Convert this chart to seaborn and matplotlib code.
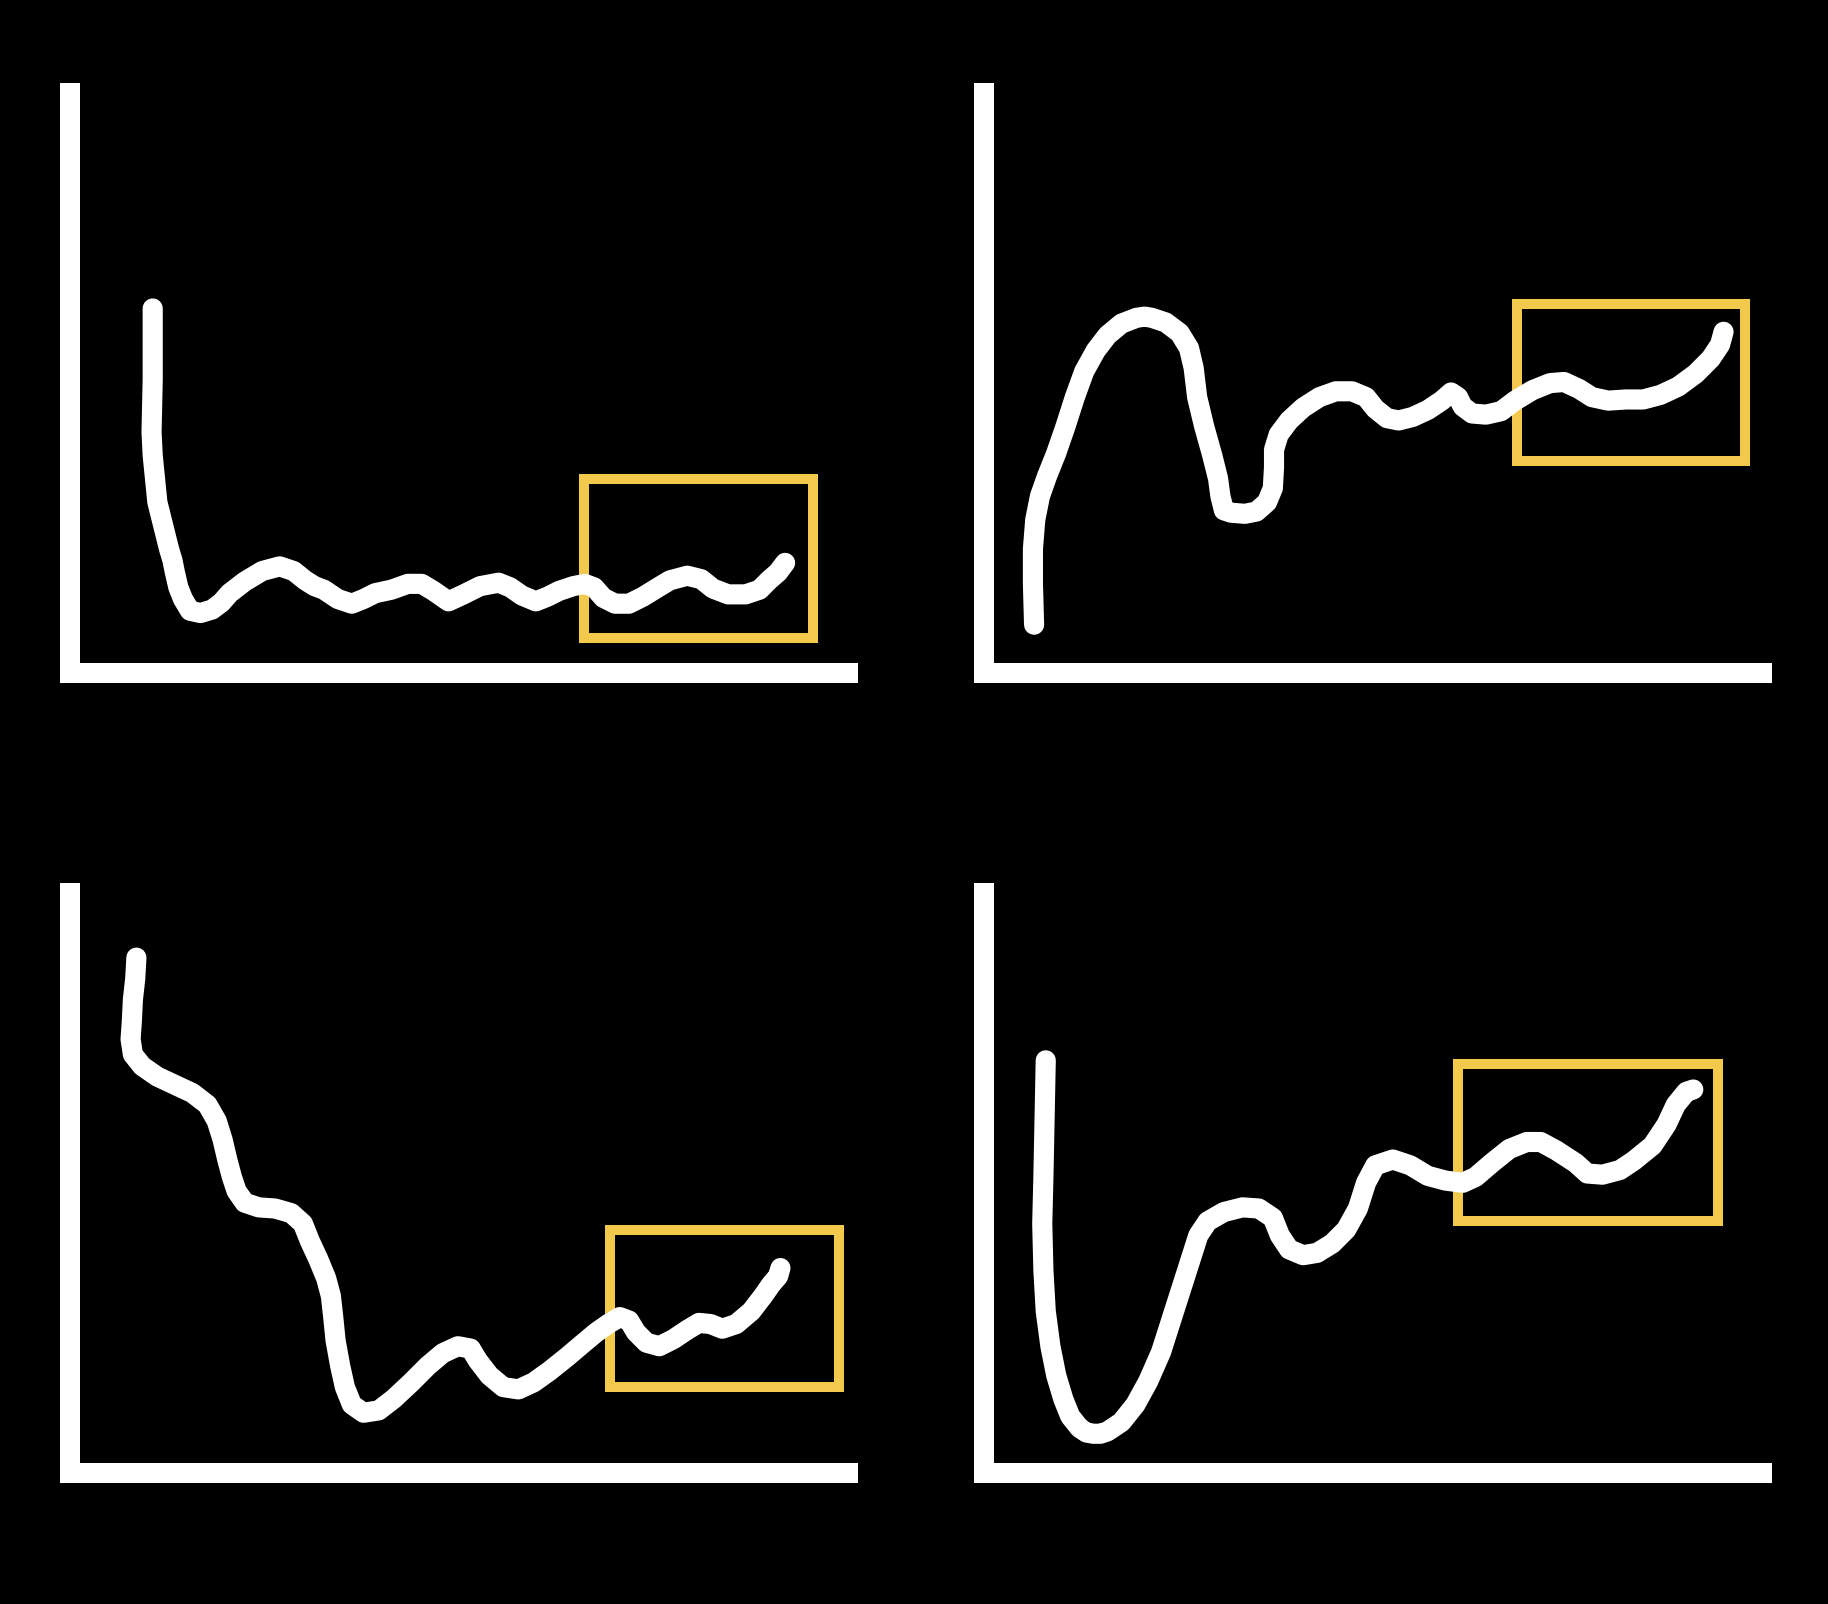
import matplotlib
matplotlib.use("Agg")
import matplotlib.pyplot as plt
from matplotlib.patches import Rectangle
import seaborn as sns
import pandas as pd

# values (x and y share one unit on every panel)
tl_x = [71, 71, 70, 71, 73, 75, 78, 82, 85, 88, 90, 93, 97, 103, 112, 122, 130, 137, 150, 165,
        180, 192, 202, 210, 218, 230, 242, 252, 262, 276, 290, 302, 312, 325, 338, 352, 368, 378,
        388, 400, 410, 420, 432, 442, 450, 458, 468, 480, 492, 505, 515, 530, 542, 552, 565, 580,
        592, 600, 608, 614]
tl_y = [312, 251, 206, 186, 166, 146, 134, 118, 106, 96, 86, 73, 63, 53, 51, 54, 60, 68, 78, 87,
        91, 87, 79, 74, 71, 63, 59, 63, 68, 71, 76, 76, 70, 61, 67, 74, 77, 73,
        66, 61, 65, 70, 74, 76, 73, 64, 59, 59, 65, 73, 79, 83, 80, 72, 67, 67,
        71, 79, 86, 94]

tr_x = [43, 42, 42, 44, 48, 54, 62, 70, 78, 86, 96, 106, 118, 131, 138, 144, 156, 168, 176, 180, 183,
        189, 196, 201, 203, 206, 212, 224, 234, 243, 248, 249, 249, 253, 262, 274, 288, 302, 316,
        328, 336, 346, 356, 368, 381, 393, 401, 407, 411, 419, 431, 444, 456, 471, 486, 498, 511,
        522, 536, 551, 566, 581, 596, 611, 624, 632, 635]
tr_y = [41, 76, 106, 131, 151, 168, 188, 211, 236, 258, 276, 289, 299, 304, 305, 304, 300, 291, 278, 261, 236,
        211, 186, 166, 151, 139, 137, 136, 138, 146, 158, 176, 191, 204, 216, 227, 236, 241, 241,
        236, 226, 218, 216, 219, 225, 233, 240, 236, 228, 222, 221, 224, 233, 242, 248, 249, 243,
        236, 233, 234, 234, 238, 245, 256, 269, 281, 292]

bl_x = [57, 56, 54, 53, 52, 54, 62, 75, 90, 105, 118, 126, 131, 135, 139, 143, 150, 162, 176, 190,
        200, 206, 213, 220, 224, 226, 228, 232, 236, 242, 252, 265, 278, 293, 307, 320, 333, 344,
        350, 360, 372, 385, 398, 412, 427, 440, 452, 462, 472, 480, 486, 495, 506, 518, 530, 540,
        550, 560, 572, 585, 595, 602, 608, 610]
bl_y = [442, 424, 406, 386, 372, 359, 349, 340, 333, 326, 316, 302, 286, 269, 254, 242, 232, 228, 227, 223,
        214, 199, 184, 167, 152, 134, 114, 92, 74, 59, 52, 54, 64, 78, 92, 103, 109, 107,
        97, 84, 74, 72, 78, 88, 100, 111, 121, 128, 134, 131, 121, 112, 109, 115, 123, 129,
        128, 124, 128, 139, 152, 162, 169, 176]

br_x = [53, 52, 51, 50, 51, 53, 57, 62, 68, 74, 82, 88, 94, 100, 106, 118, 130, 141, 152, 160, 168, 176,
        184, 192, 206, 222, 236, 248, 254, 262, 274, 286, 299, 311, 321, 328, 336, 351, 366, 381,
        396, 411, 422, 436, 451, 466, 478, 491, 508, 518, 531, 546, 558, 574, 586, 594, 603, 609]
br_y = [354, 304, 254, 214, 174, 139, 109, 84, 64, 49, 39, 35, 34, 34, 36, 44, 59, 79, 104, 129, 154, 179,
        204, 216, 224, 228, 227, 219, 204, 192, 187, 189, 197, 209, 227, 249, 264, 269, 264, 255,
        251, 249, 254, 266, 278, 284, 284, 277, 266, 257, 256, 260, 268, 281, 299, 316, 327, 329]

# highlighted window on each panel: x0, y0, width, height
boxes = [(441, 30, 197, 136), (458, 181, 195, 135), (464, 74, 196, 135), (407, 216, 223, 135)]

panels = [(tl_x, tl_y), (tr_x, tr_y), (bl_x, bl_y), (br_x, br_y)]

sns.set_style("white")
plt.rcParams["figure.facecolor"] = "black"
plt.rcParams["axes.facecolor"] = "black"

fig = plt.figure(figsize=(18.28, 16.04), dpi=100)
w, h = 0.4256, 0.3616
spots = [(0.0383, 0.5807), (0.5383, 0.5807), (0.0383, 0.0814), (0.5383, 0.0814)]

for (px, py), (x, y), box in zip(spots, panels, boxes):
    ax = fig.add_axes([px, py, w, h])
    df = pd.DataFrame({"x": x, "y": y})
    sns.lineplot(data=df, x="x", y="y", ax=ax, sort=False, estimator=None,
                 color="white", linewidth=14.5, solid_capstyle="round", solid_joinstyle="round")
    ax.add_patch(Rectangle(box[:2], box[2], box[3], fill=False,
                           edgecolor="#F2C94C", linewidth=7.2))
    ax.set_xlim(0, 668)
    ax.set_ylim(0, 497)
    ax.set_xticks([])
    ax.set_yticks([])
    ax.set_xlabel("")
    ax.set_ylabel("")
    for side in ["top", "right"]:
        ax.spines[side].set_visible(False)
    for side in ["left", "bottom"]:
        ax.spines[side].set_color("white")
        ax.spines[side].set_linewidth(14.4)
        ax.spines[side].set_capstyle("projecting")

fig.savefig("out.png", dpi=100, facecolor="black")
